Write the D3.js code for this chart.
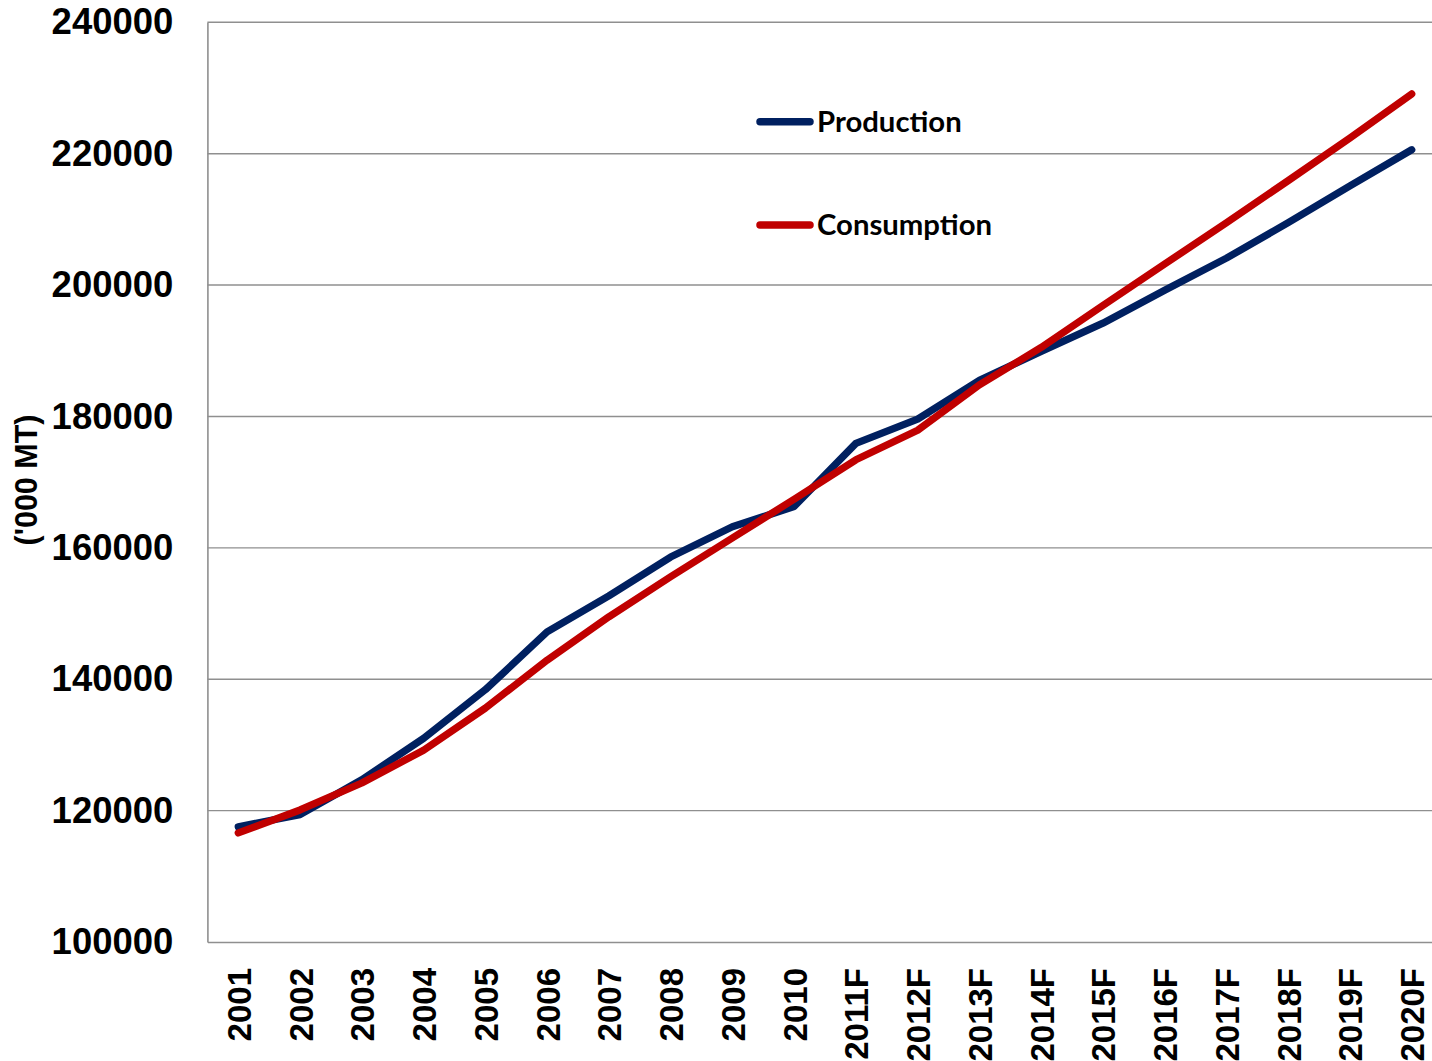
<!DOCTYPE html>
<html>
<head>
<meta charset="utf-8">
<script src="https://cdn.jsdelivr.net/npm/d3@7"></script>
<style>
  html, body { margin: 0; padding: 0; background: #fff; }
  svg { display: block; }
</style>
</head>
<body>
<svg id="chart" width="1432" height="1061"></svg>
<script>
// Years on the category axis (F = forecast)
const years = ["2001","2002","2003","2004","2005","2006","2007","2008","2009","2010",
               "2011F","2012F","2013F","2014F","2015F","2016F","2017F","2018F","2019F","2020F"];

// Production and consumption, '000 MT
const production = [117550, 119400, 124700, 131000, 138400, 147200, 152700, 158600, 163200, 166300,
                    175900, 179600, 185500, 189900, 194200, 199200, 204100, 209500, 215100, 220600];
const consumption = [116600, 120100, 124200, 129200, 135600, 142900, 149500, 155600, 161500, 167400,
                     173400, 177900, 184800, 190500, 196900, 203200, 209500, 215900, 222400, 229100];

const yTicks = [100000, 120000, 140000, 160000, 180000, 200000, 220000, 240000];

const seriesNames = ["Production", "Consumption"];
const seriesColors = ["#002060", "#C00000"];

const svg = d3.select("#chart");
const W = 1432, H = 1061;
svg.append("rect").attr("width", W).attr("height", H).attr("fill", "#fff");

const plot = { left: 207.4, right: 1442.6, top: 22.3, bottom: 942 };

const x = d3.scalePoint().domain(years).range([plot.left, plot.right]).padding(0.5);
const y = d3.scaleLinear().domain([100000, 240000]).range([plot.bottom, plot.top]);

// horizontal gridlines
svg.append("g")
  .selectAll("line")
  .data(yTicks.filter(t => t > 100000))
  .join("line")
  .attr("x1", plot.left).attr("x2", plot.right)
  .attr("y1", d => y(d)).attr("y2", d => y(d))
  .attr("stroke", "#8f8f8f").attr("stroke-width", 1.4);

// y axis
const yAxis = d3.axisLeft(y).tickValues(yTicks).tickSize(0).tickPadding(34)
  .tickFormat(d3.format("d"));
const gy = svg.append("g").attr("transform", `translate(${plot.left},0)`).call(yAxis);
gy.select(".domain").attr("stroke", "#8f8f8f").attr("stroke-width", 1.6);
gy.selectAll("text")
  .attr("font-family", "'Liberation Sans', Arial, sans-serif")
  .attr("font-weight", "bold").attr("font-size", 36.5).attr("fill", "#000");

// x axis
const xAxis = d3.axisBottom(x).tickSize(0).tickPadding(0);
const gx = svg.append("g").attr("transform", `translate(0,${plot.bottom})`).call(xAxis);
gx.select(".domain").attr("stroke", "#8f8f8f").attr("stroke-width", 1.6);
gx.selectAll("text")
  .attr("font-family", "'Liberation Sans', Arial, sans-serif")
  .attr("font-weight", "bold").attr("font-size", 33).attr("fill", "#000")
  .attr("text-anchor", "end")
  .attr("dy", null)
  .attr("y", 0)
  .attr("transform", "translate(12,26) rotate(-90)");

// y axis title
svg.append("text")
  .attr("transform", "translate(37,480) rotate(-90)")
  .attr("text-anchor", "middle")
  .attr("font-family", "'Liberation Sans', Arial, sans-serif")
  .attr("font-weight", "bold").attr("font-size", 30.5).attr("fill", "#000")
  .text("('000 MT)");

// series lines
const line = d3.line().x((d, i) => x(years[i])).y(d => y(d));
[production, consumption].forEach((vals, k) => {
  svg.append("path")
    .datum(vals)
    .attr("d", line)
    .attr("fill", "none")
    .attr("stroke", seriesColors[k])
    .attr("stroke-width", 7.3)
    .attr("stroke-linejoin", "round")
    .attr("stroke-linecap", "round");
});

// legend
const legendY = [121.7, 225];
seriesNames.forEach((name, k) => {
  const g = svg.append("g").attr("transform", `translate(0,${legendY[k]})`);
  g.append("line")
    .attr("x1", 760).attr("x2", 810).attr("y1", 0).attr("y2", 0)
    .attr("stroke", seriesColors[k]).attr("stroke-width", 7.5)
    .attr("stroke-linecap", "round");
  g.append("text")
    .attr("x", 817).attr("y", 10)
    .attr("font-family", "Lato, 'Open Sans', sans-serif")
    .attr("font-weight", "bold").attr("font-size", 29.3).attr("fill", "#000")
    .text(name);
});
</script>
</body>
</html>
